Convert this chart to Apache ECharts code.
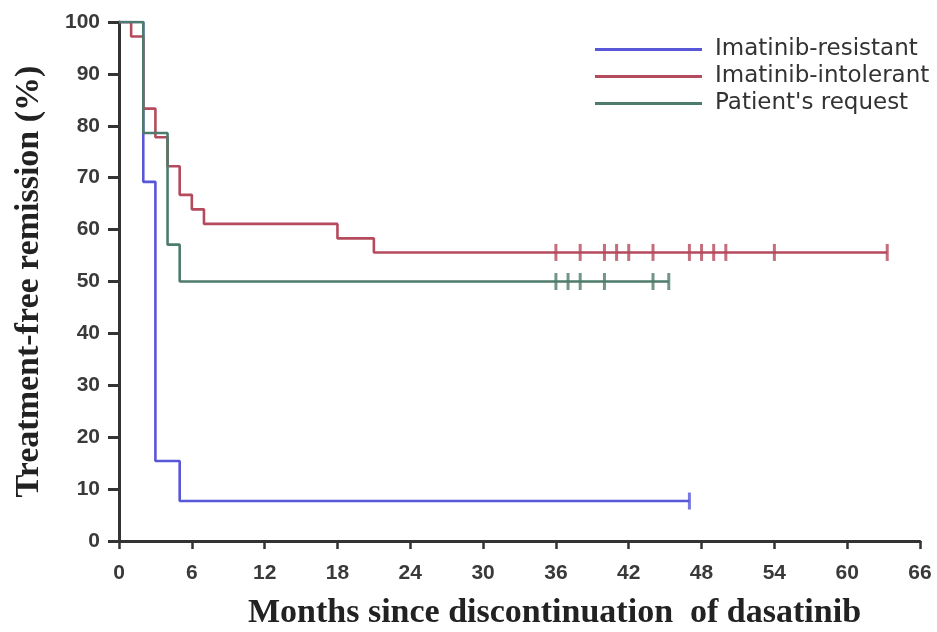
<!DOCTYPE html>
<html><head><meta charset="utf-8">
<script src="https://cdn.jsdelivr.net/npm/echarts@6/dist/echarts.min.js"></script>
<style>html,body{margin:0;padding:0;background:#fff}#c{width:937px;height:632px}</style>
</head><body><div id="c"></div>
<script>
var xTicks = [0,6,12,18,24,30,36,42,48,54,60,66];
var yTicks = [0,10,20,30,40,50,60,70,80,90,100];

var blueTimes = [0,2,3,5,47];
var blueSurv  = [100,69.2,15.4,7.7,7.7];
var blueCensor = [47];

var redTimes = [0,1,2,3,4,5,6,7,18,21,63.3];
var redSurv  = [100,97.2,83.3,77.8,72.2,66.7,63.9,61.1,58.3,55.6,55.6];
var redCensor = [36,38,40,41,42,44,47,48,49,50,54,63.3];

var greenTimes = [0,2,4,5,45.3];
var greenSurv  = [100,78.6,57.1,50,50];
var greenCensor = [36,37,38,40,44,45.3];

var names = ['Imatinib-resistant','Imatinib-intolerant',"Patient's request"];
var colors = ['#5757d8','#b44a5c','#4d7c6a'];

function pairs(t,s){return t.map(function(v,i){return [v,s[i]];});}
function cens(t,lvl){return t.map(function(v){return [v,lvl];});}

var chart = echarts.init(document.getElementById('c'));
var tickFont = {fontFamily:'Liberation Sans, Arial, sans-serif',fontWeight:'bold',fontSize:21,color:'#3a3a3a'};
var series = [];
var sets = [[blueTimes,blueSurv,blueCensor],[redTimes,redSurv,redCensor],[greenTimes,greenSurv,greenCensor]];
sets.forEach(function(s,i){
  series.push({name:names[i],type:'line',step:'end',data:pairs(s[0],s[1]),showSymbol:false,symbol:'none',
    lineStyle:{color:colors[i],width:2.6},itemStyle:{color:colors[i]},z:2+i});
  series.push({name:names[i]+' censored',type:'scatter',data:cens(s[2],s[1][s[1].length-1]),symbol:'rect',
    symbolSize:[3,17],itemStyle:{color:colors[i]},z:2+i});
});

chart.setOption({
  animation:false,
  grid:{left:119,right:17,top:22,bottom:91,containLabel:false,outerBoundsMode:'none'},
  legend:{data:names.map(function(n){return {name:n,icon:'rect'};}),orient:'vertical',left:590,top:33,
    itemWidth:107,itemHeight:3,itemGap:4,
    textStyle:{fontFamily:'DejaVu Sans, sans-serif',fontSize:23,color:'#333',padding:[0,0,0,8]}},
  xAxis:{type:'value',min:0,max:66,interval:6,
    name:'Months since discontinuation  of dasatinib',nameLocation:'middle',nameGap:55,
    nameTextStyle:{fontFamily:'Liberation Serif, serif',fontWeight:'bold',fontSize:34,color:'#222',padding:[0,0,0,70]},
    axisLine:{lineStyle:{color:'#333',width:3}},axisTick:{length:8,lineStyle:{color:'#333',width:2.5}},
    axisLabel:Object.assign({margin:22},tickFont),splitLine:{show:false}},
  yAxis:{type:'value',min:0,max:100,interval:10,
    name:'Treatment-free remission (%)',nameLocation:'middle',nameGap:73,
    nameTextStyle:{fontFamily:'Liberation Serif, serif',fontWeight:'bold',fontSize:34,color:'#222'},
    axisLine:{show:true,lineStyle:{color:'#333',width:3}},axisTick:{show:true,length:11,lineStyle:{color:'#333',width:3}},
    axisLabel:Object.assign({margin:19},tickFont),splitLine:{show:false}},
  series:series
});
</script></body></html>
